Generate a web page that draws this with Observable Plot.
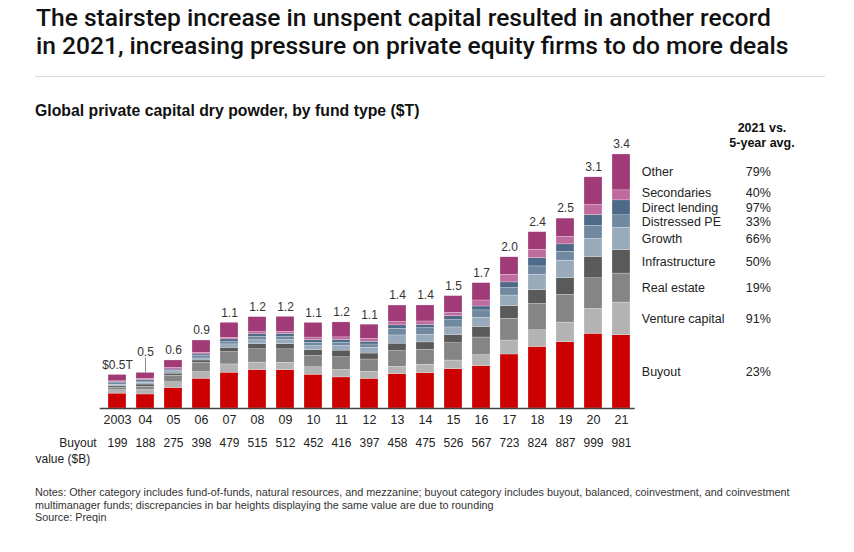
<!DOCTYPE html>
<html>
<head>
<meta charset="utf-8">
<script src="https://cdn.jsdelivr.net/npm/d3@7"></script>
<script src="https://cdn.jsdelivr.net/npm/@observablehq/plot@0.6"></script>
<style>
  html, body { margin: 0; padding: 0; background: #fff; }
  #wrap { position: relative; width: 854px; height: 552px; overflow: hidden; font-family: "Liberation Sans", Arial, sans-serif; }
  #title { position: absolute; left: 36px; top: 4px; font-family: Roboto, "Noto Sans", sans-serif; font-size: 24.6px; font-weight: 500; line-height: 28px; color: #111; white-space: nowrap; }
  #rule { position: absolute; left: 35px; top: 76px; width: 790px; height: 1px; background: #d9d9d9; }
  #subtitle { position: absolute; left: 35px; top: 102px; font-size: 15.8px; font-weight: bold; color: #111; }
  #header { position: absolute; left: 712px; top: 121px; width: 100px; text-align: center; font-size: 12.5px; font-weight: bold; line-height: 15px; color: #111; }
  #chart { position: absolute; left: 0; top: 120px; }
  #notes { position: absolute; left: 35px; top: 486px; width: 790px; font-size: 10.8px; line-height: 12.5px; color: #333; }
</style>
</head>
<body>
<div id="wrap">
  <div id="title">The stairstep increase in unspent capital resulted in another record<br>in 2021, increasing pressure on private equity firms to do more deals</div>
  <div id="rule"></div>
  <div id="subtitle">Global private capital dry powder, by fund type ($T)</div>
  <div id="header">2021 vs.<br>5-year avg.</div>
  <div id="chart"></div>
  <div id="notes">Notes: Other category includes fund-of-funds, natural resources, and mezzanine; buyout category includes buyout, balanced, coinvestment, and coinvestment multimanager funds; discrepancies in bar heights displaying the same value are due to rounding<br>Source: Preqin</div>
</div>
<script>
// Categories (years) and tick labels
const years = ["2003","04","05","06","07","08","09","10","11","12","13","14","15","16","17","18","19","20","21"];
const totalLabels = ["$0.5T","0.5","0.6","0.9","1.1","1.2","1.2","1.1","1.2","1.1","1.4","1.4","1.5","1.7","2.0","2.4","2.5","3.1","3.4"];

// Buyout value ($B)
const buyoutB = [199,188,275,398,479,515,512,452,416,397,458,475,526,567,723,824,887,999,981];

// Dry powder by fund type ($T)
const venture       = [0.045,0.058,0.076,0.089,0.111,0.100,0.100,0.100,0.100,0.094,0.100,0.110,0.116,0.147,0.187,0.223,0.263,0.334,0.437];
const realEstate    = [0.030,0.045,0.089,0.125,0.165,0.178,0.180,0.150,0.170,0.165,0.210,0.200,0.232,0.236,0.290,0.352,0.370,0.410,0.388];
const infrastructure= [0.022,0.030,0.027,0.031,0.058,0.067,0.070,0.080,0.089,0.080,0.100,0.100,0.111,0.143,0.169,0.183,0.223,0.281,0.312];
const growth        = [0.022,0.022,0.018,0.027,0.045,0.053,0.055,0.053,0.062,0.076,0.110,0.100,0.100,0.120,0.143,0.209,0.236,0.245,0.303];
const distressed    = [0.020,0.018,0.018,0.031,0.031,0.045,0.045,0.045,0.045,0.045,0.090,0.090,0.098,0.100,0.100,0.111,0.120,0.174,0.165];
const directLending = [0.013,0.018,0.018,0.022,0.036,0.035,0.035,0.035,0.035,0.035,0.045,0.045,0.053,0.053,0.076,0.111,0.098,0.147,0.200];
const secondaries   = [0.013,0.018,0.022,0.022,0.022,0.030,0.030,0.035,0.035,0.040,0.045,0.045,0.045,0.080,0.100,0.111,0.100,0.134,0.134];
const other         = [0.085,0.080,0.100,0.165,0.200,0.200,0.200,0.196,0.200,0.190,0.220,0.214,0.223,0.232,0.236,0.236,0.245,0.370,0.480];

// Fund types, bottom to top, with legend percentages (2021 vs. 5-year avg.)
const types = ["Buyout","Venture capital","Real estate","Infrastructure","Growth","Distressed PE","Direct lending","Secondaries","Other"];
const pcts  = ["23%","91%","19%","50%","66%","33%","97%","40%","79%"];
const colors = ["#cc0000","#b3b3b3","#858585","#5a5a5a","#99aabb","#7089a0","#4d6a88","#c06b9e","#a03b78"];

const series = [buyoutB.map(v => v / 1000), venture, realEstate, infrastructure, growth, distressed, directLending, secondaries, other];

const data = [];
years.forEach((year, i) => {
  types.forEach((type, k) => data.push({year, type, value: series[k][i], pct: pcts[k]}));
});
const totals = years.map((year, i) => ({year, label: totalLabels[i], total: d3.sum(series, s => s[i]), buyout: buyoutB[i]}));
const data21 = data.filter(d => d.year === "21");
// small vertical nudges for the tightly packed legend labels
const nudge = {"Secondaries": -2, "Distressed PE": 1};

const legendMarks = [];
for (const [dyExtra, filt] of [[nudge["Secondaries"], d => d.type === "Secondaries"], [nudge["Distressed PE"], d => d.type === "Distressed PE"], [0, d => !(d.type in nudge)]]) {
  legendMarks.push(Plot.text(data21, Plot.stackY({x: "year", y: "value", text: d => filt(d) ? d.type : "", dx: 20.3, dy: dyExtra, textAnchor: "start", fontSize: 12.5, fill: "#222"})));
  legendMarks.push(Plot.text(data21, Plot.stackY({x: "year", y: "value", text: d => filt(d) ? d.pct : "", dx: 124.3, dy: dyExtra, textAnchor: "start", fontSize: 12.5, fill: "#222"})));
}

const chart = Plot.plot({
  width: 854,
  height: 360,
  marginLeft: 94.7,
  marginRight: 211.3,
  marginTop: 34,
  marginBottom: 72,
  x: {domain: years, padding: 0.364},
  y: {domain: [0, 3.4], axis: null},
  color: {domain: types, range: colors},
  style: {fontFamily: "'Liberation Sans', Arial, sans-serif", fontSize: "12px", color: "#222", background: "transparent", overflow: "visible"},
  marks: [
    Plot.barY(data, {x: "year", y: "value", fill: "type", stroke: "#fff", strokeWidth: 0.4, strokeOpacity: 0.6}),
    Plot.ruleY([0], {stroke: "#444", strokeWidth: 1.3, insetLeft: 5, insetRight: 8}),
    Plot.axisX({tickSize: 0, tickPadding: 7, fontSize: 12.5, tickFormat: d => d, label: null}),
    Plot.text(totals.filter(d => d.year !== "04"), {x: "year", y: "total", text: "label", dy: -10, fontSize: 12, fill: "#333"}),
    Plot.text(totals.filter(d => d.year === "04"), {x: "year", y: "total", text: "label", dy: -21, fontSize: 12, fill: "#333"}),
    Plot.ruleX(totals.filter(d => d.year === "04"), {x: "year", y1: "total", y2: d => d.total + 0.2, stroke: "#888", strokeWidth: 1}),
    Plot.text(totals, {x: "year", text: "buyout", frameAnchor: "bottom", dy: 38, fontSize: 12, fill: "#222"}),
    Plot.text(["Buyout"], {frameAnchor: "bottom-left", text: d => d, textAnchor: "end", dx: 1.5, dy: 38, fontSize: 12, fill: "#222"}),
    Plot.text(["value ($B)"], {frameAnchor: "bottom-left", text: d => d, textAnchor: "start", dx: -59.7, dy: 54, fontSize: 12, fill: "#222"}),
    ...legendMarks
  ]
});
document.getElementById("chart").appendChild(chart);
</script>
</body>
</html>
